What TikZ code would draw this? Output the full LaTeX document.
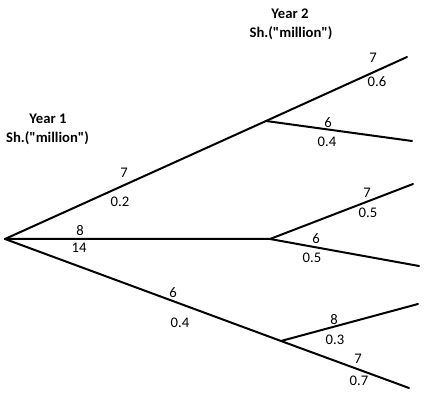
\documentclass[tikz,border=0pt]{standalone}
\usepackage{fontspec}
\setmainfont{Carlito}
\usepackage{tikz}
\usetikzlibrary{calc}

\begin{document}
\begin{tikzpicture}[x=0.75pt,y=0.75pt,
  branch/.style={line width=1.5pt,line cap=round},
  val/.style={font=\fontsize{11}{13}\selectfont,inner sep=0pt},
  head/.style={font=\fontsize{11}{13}\selectfont\bfseries,inner sep=0pt}]
\useasboundingbox (0,0) rectangle (427,402);
% tree points
\coordinate (R) at (5,163);
\coordinate (A) at (266,281);
\coordinate (B) at (270,163);
\coordinate (C) at (281,61);
\coordinate (AA) at (407,345);
\coordinate (AB) at (412,261);
\coordinate (BA) at (413,218);
\coordinate (BB) at (419,136);
\coordinate (CA) at (418,98);
\coordinate (CB) at (409,14);
% branches
\draw[branch] (R) -- (A) -- (AA);
\draw[branch] (A) -- (AB);
\draw[branch] (R) -- (B) -- (BA);
\draw[branch] (B) -- (BB);
\draw[branch] (R) -- (C) -- (CB);
\draw[branch] (C) -- (CA);
% headings
\node[head] (y1) at (48,283) {Year 1};
\node[head] (s1) at (47.5,264) {Sh.(\textquotedbl million\textquotedbl)};
\node[head] (y2) at (290,388) {Year 2};
\node[head] (s2) at (291,369) {Sh.(\textquotedbl million\textquotedbl)};
% year 1 values
\node[val] (a7) at (124,229) {7};
\node[val] (a02) at (120,200) {0.2};
\node[val] (b8) at (80,171) {8};
\node[val] (b14) at (79,154) {14};
\node[val] (c6) at (173,109) {6};
\node[val] (c04) at (180,79) {0.4};
% year 2 values
\node[val] (aa7) at (373,344) {7};
\node[val] (aa06) at (377,320) {0.6};
\node[val] (ab6) at (328,279) {6};
\node[val] (ab04) at (327,260) {0.4};
\node[val] (ba7) at (367,209) {7};
\node[val] (ba05) at (368,189) {0.5};
\node[val] (bb6) at (316,163) {6};
\node[val] (bb05) at (312,144) {0.5};
\node[val] (ca8) at (334,82) {8};
\node[val] (ca03) at (335,62) {0.3};
\node[val] (cb7) at (358,43) {7};
\node[val] (cb07) at (359,21) {0.7};
\end{tikzpicture}
\end{document}
